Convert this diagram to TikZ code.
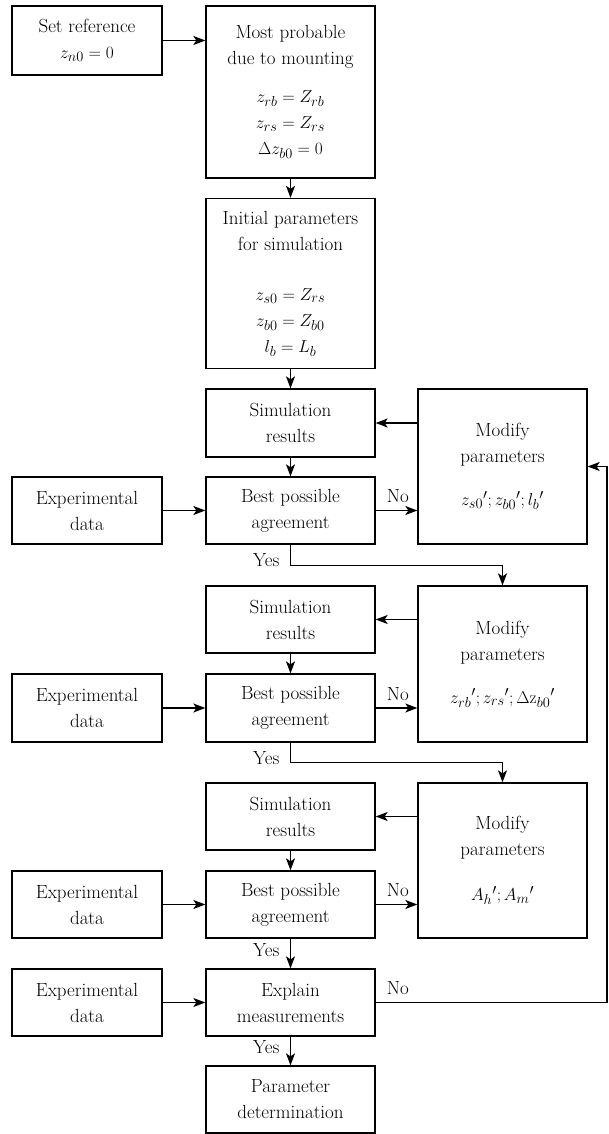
\documentclass[tikz,border=0pt]{standalone}
\usetikzlibrary{arrows.meta}
\begin{document}
\begin{tikzpicture}[x=1pt,y=-1pt,
  box/.style={draw, line width=1.3pt, align=center, inner sep=0pt, minimum width=169pt, font=\fontsize{19}{26}\selectfont},
  sbox/.style={box, minimum width=150pt},
  arr/.style={line width=1.3pt, -{Stealth[length=12pt,width=9pt,inset=3pt]}},
  lbl/.style={inner sep=0pt, font=\fontsize{19}{26}\selectfont}]
\useasboundingbox (0,0) rectangle (608,1134);
% left column
\node[sbox, minimum height=69pt] (setref) at (87,40.5) {Set reference\\$z_{n0}=0$};
\node[sbox, minimum height=67pt] (exp1) at (87,510.5) {Experimental\\data};
\node[sbox, minimum height=68pt] (exp2) at (87,708) {Experimental\\data};
\node[sbox, minimum height=67pt] (exp3) at (87,904.5) {Experimental\\data};
\node[sbox, minimum height=67pt] (exp4) at (87,1002.5) {Experimental\\data};
% middle column
\node[box, minimum height=172pt] (most) at (290.5,92) {Most probable\\due to mounting\\[12pt]$z_{rb}=Z_{rb}$\\$z_{rs}=Z_{rs}$\\$\Delta z_{b0}=0$};
\node[box, minimum height=170pt] (init) at (290.5,283.5) {Initial parameters\\for simulation\\[24pt]$z_{s0}=Z_{rs}$\\$z_{b0}=Z_{b0}$\\$l_b=L_b$};
\node[box, minimum height=68pt] (sim1) at (290.5,423) {Simulation\\results};
\node[box, minimum height=67pt] (best1) at (290.5,510.5) {Best possible\\agreement};
\node[box, minimum height=67pt] (sim2) at (290.5,619.5) {Simulation\\results};
\node[box, minimum height=68pt] (best2) at (290.5,708) {Best possible\\agreement};
\node[box, minimum height=67pt] (sim3) at (290.5,816.5) {Simulation\\results};
\node[box, minimum height=67pt] (best3) at (290.5,904.5) {Best possible\\agreement};
\node[box, minimum height=67pt] (explain) at (290.5,1002.5) {Explain\\measurements};
\node[box, minimum height=67pt] (param) at (290.5,1099.5) {Parameter\\determination};
% right column
\node[box, minimum height=155pt] (mod1) at (502.5,466.5) {Modify\\parameters\\[17pt]${z_{s0}}'; {z_{b0}}'; {l_b}'$};
\node[box, minimum height=156pt] (mod2) at (502.5,664) {Modify\\parameters\\[17pt]${z_{rb}}'; {z_{rs}}'; \Delta{\mathrm{z}_{b0}}'$};
\node[box, minimum height=155pt] (mod3) at (502.5,860.5) {Modify\\parameters\\[19pt]${A_h}'; {A_m}'$};
% connectors
\draw[arr] (setref.east) -- (setref.east -| most.west);
\draw[arr] (most.south) -- (init.north);
\draw[arr] (init.south) -- (sim1.north);
\draw[arr] (sim1.south) -- (best1.north);
\draw[arr] (sim2.south) -- (best2.north);
\draw[arr] (sim3.south) -- (best3.north);
\draw[arr] (exp1.east) -- (best1.west);
\draw[arr] (exp2.east) -- (best2.west);
\draw[arr] (exp3.east) -- (best3.west);
\draw[arr] (exp4.east) -- (explain.west);
\draw[arr] (best1.east) -- (best1.east -| mod1.west);
\draw[arr] (best2.east) -- (best2.east -| mod2.west);
\draw[arr] (best3.east) -- (best3.east -| mod3.west);
\draw[arr] (mod1.west |- sim1.east) -- (sim1.east);
\draw[arr] (mod2.west |- sim2.east) -- (sim2.east);
\draw[arr] (mod3.west |- sim3.east) -- (sim3.east);
\draw[arr] (best1.south) -- ++(0,21) -| (mod2.north);
\draw[arr] (best2.south) -- ++(0,20) -| (mod3.north);
\draw[arr] (best3.south) -- (explain.north);
\draw[arr] (explain.south) -- (param.north);
\coordinate (r1) at (607,1002.5);
\coordinate (r2) at (607,466.5);
\draw[arr] (explain.east) -- (r1) -- (r2) -- (mod1.east);
% labels
\node[lbl, anchor=base west] (no1) at ([xshift=11pt,yshift=8pt]best1.east) {No};
\node[lbl, anchor=base west] (no2) at ([xshift=11pt,yshift=8pt]best2.east) {No};
\node[lbl, anchor=base west] (no3) at ([xshift=11pt,yshift=8pt]best3.east) {No};
\node[lbl, anchor=base west] (no4) at ([xshift=11pt,yshift=8pt]explain.east) {No};
\node[lbl, anchor=base east] (yes1) at ([xshift=-11pt,yshift=-22pt]best1.south) {Yes};
\node[lbl, anchor=base east] (yes2) at ([xshift=-11pt,yshift=-22pt]best2.south) {Yes};
\node[lbl, anchor=base east] (yes3) at ([xshift=-11pt,yshift=-18pt]best3.south) {Yes};
\node[lbl, anchor=base east] (yes4) at ([xshift=-11pt,yshift=-17pt]explain.south) {Yes};
\end{tikzpicture}
\end{document}
